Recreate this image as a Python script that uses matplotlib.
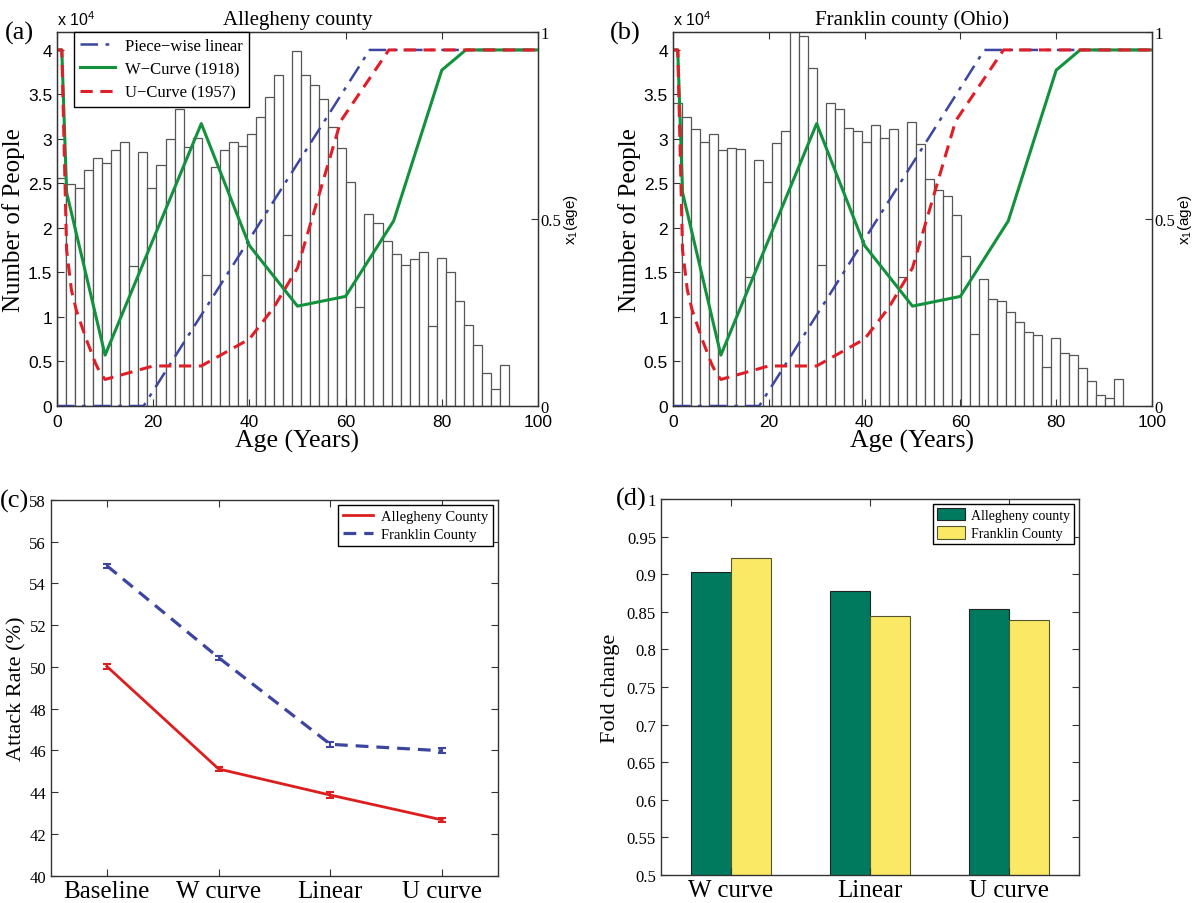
import numpy as np
import matplotlib
matplotlib.use("Agg")
import matplotlib.pyplot as plt
from matplotlib.lines import Line2D

SERIF = "Liberation Serif"
SANS = "Liberation Sans"
plt.rcParams["font.family"] = [SERIF, "DejaVu Serif"]
plt.rcParams["mathtext.fontset"] = "custom"
plt.rcParams["mathtext.rm"] = SANS
plt.rcParams["mathtext.it"] = SANS

# age histograms (counts in units of 1e4), 50 bins over ages 0..94
BIN_W = 1.88
ALLEGHENY_HIST = [2.56, 2.49, 2.45, 2.65, 2.79, 2.73, 2.88, 2.97, 1.57, 2.85,
                  2.45, 2.71, 3.00, 3.33, 2.91, 3.01, 1.47, 2.68, 2.87, 2.97,
                  2.92, 3.06, 3.25, 3.47, 3.72, 1.92, 3.99, 3.72, 3.61, 3.45,
                  3.13, 2.90, 2.52, 1.11, 2.16, 2.06, 1.85, 1.71, 1.58, 1.65,
                  1.73, 0.90, 1.66, 1.50, 1.18, 0.91, 0.68, 0.37, 0.19, 0.46]
FRANKLIN_HIST = [3.40, 3.24, 3.11, 2.97, 3.05, 2.88, 2.90, 2.89, 1.45, 2.76,
                 2.52, 2.95, 3.09, 4.25, 4.15, 3.80, 1.58, 3.40, 3.34, 3.12,
                 3.09, 2.97, 3.16, 3.01, 3.11, 1.45, 3.19, 2.94, 2.55, 2.42,
                 2.36, 2.14, 1.68, 0.81, 1.43, 1.20, 1.18, 1.05, 0.94, 0.83,
                 0.80, 0.44, 0.76, 0.59, 0.57, 0.43, 0.28, 0.12, 0.09, 0.30]
COUNT_TICKS = [0, 0.5, 1, 1.5, 2, 2.5, 3, 3.5, 4]
AGE_TICKS = [0, 20, 40, 60, 80, 100]

# x1(age) curves (right axis)
LIN_AGE = [0, 18, 65, 100]
LIN_VAL = [0, 0, 0.952, 0.952]
W_AGE = [0, 1, 2, 10, 30, 40, 50, 60, 70, 80, 85, 100]
W_VAL = [0.952, 0.952, 0.571, 0.136, 0.755, 0.429, 0.267, 0.293, 0.495, 0.898, 0.952, 0.952]
U_AGE = [0, 1, 2, 3, 4, 5, 6, 7, 8, 9, 10, 20, 30, 40, 45, 50, 59, 69, 100]
U_VAL = [0.952, 0.952, 0.417, 0.310, 0.257, 0.219, 0.181, 0.148, 0.114, 0.088, 0.071,
         0.107, 0.107, 0.179, 0.262, 0.369, 0.762, 0.952, 0.952]

# panel (c)
SCENARIOS = ["Baseline", "W curve", "Linear", "U curve"]
ATTACK_ALLEGHENY = [50.02, 45.11, 43.86, 42.67]
ATTACK_ALLEGHENY_ERR = [0.12, 0.10, 0.13, 0.09]
ATTACK_FRANKLIN = [54.84, 50.44, 46.29, 45.98]
ATTACK_FRANKLIN_ERR = [0.10, 0.10, 0.11, 0.12]
ATTACK_TICKS = [40, 42, 44, 46, 48, 50, 52, 54, 56, 58]

# panel (d)
STRATEGIES = ["W curve", "Linear", "U curve"]
FOLD_ALLEGHENY = [0.9025, 0.8777, 0.8533]
FOLD_FRANKLIN = [0.921, 0.8444, 0.839]
FOLD_TICKS = [0.5, 0.55, 0.6, 0.65, 0.7, 0.75, 0.8, 0.85, 0.9, 0.95, 1]

C_BLUE = "#3C46A0"
C_GREEN = "#12923C"
C_RED = "#E01E28"
C_EDGE = "#333333"


def style_ax(ax):
    for s in ax.spines.values():
        s.set_color(C_EDGE)
        s.set_linewidth(1.0)
    ax.tick_params(direction="in", top=True, right=True, length=5, color=C_EDGE)


def age_panel(ax, hist, title, legend=False):
    left_edges = np.arange(len(hist)) * BIN_W
    ax.bar(left_edges, np.array(hist) * 1e4, width=BIN_W, align="edge",
           color="white", edgecolor="#555555", linewidth=0.9, zorder=1)
    ax.set_xlim(0, 100)
    ax.set_ylim(0, 4.2e4)
    ax.set_yticks([t * 1e4 for t in COUNT_TICKS], labels=[f"{t:g}" for t in COUNT_TICKS],
                  fontfamily=SANS, fontsize=12.5)
    ax.set_xticks(AGE_TICKS, labels=[str(t) for t in AGE_TICKS],
                  fontfamily=SANS, fontsize=12.5)
    style_ax(ax)
    ax.tick_params(axis="x", pad=6)
    ax.set_xlabel("Age (Years)", fontsize=18.5, labelpad=0)
    ax.set_ylabel("Number of People", fontsize=18, labelpad=2)
    ax.set_title(title, fontsize=15, pad=6)
    ax.text(0, 1.012, "x 10$^4$", transform=ax.transAxes, fontfamily=SANS,
            fontsize=11.5, va="bottom", ha="left")

    tw = ax.twinx()
    tw.set_ylim(0, 1)
    tw.set_yticks([0, 0.5, 1], labels=["0", "0.5", "1"], fontsize=12)
    tw.tick_params(direction="in", length=5, color=C_EDGE, pad=2)
    tw.set_ylabel("x$_1$(age)", fontfamily=SANS, fontsize=11, labelpad=0)
    l1, = tw.plot(LIN_AGE, LIN_VAL, color=C_BLUE, lw=1.8, dashes=[7, 3, 1.5, 3],
                  label="Piece\u2212wise linear")
    l2, = tw.plot(W_AGE, W_VAL, color=C_GREEN, lw=2.2, label="W\u2212Curve (1918)")
    l3, = tw.plot(U_AGE, U_VAL, color=C_RED, lw=2.2, dashes=[4, 2.5],
                  label="U\u2212Curve (1957)")
    for s in tw.spines.values():
        s.set_color(C_EDGE)
    if legend:
        leg = tw.legend(handles=[l1, l2, l3], loc="upper left",
                        bbox_to_anchor=(0.036, 1.0), borderaxespad=0,
                        prop={"size": 12}, fancybox=False,
                        framealpha=1, edgecolor="black", handlelength=2.1,
                        borderpad=0.35, labelspacing=0.45, handletextpad=0.6)
        leg.get_frame().set_linewidth(1.0)
    return tw


fig = plt.figure(figsize=(12, 9.04), dpi=100)

ax_a = fig.add_axes([0.0475, 0.5498, 0.4008, 0.4137])
ax_b = fig.add_axes([0.5608, 0.5498, 0.3992, 0.4137])
ax_c = fig.add_axes([0.0425, 0.0302, 0.3725, 0.4159])
ax_d = fig.add_axes([0.5508, 0.0310, 0.3483, 0.4159])

age_panel(ax_a, ALLEGHENY_HIST, "Allegheny county", legend=True)
age_panel(ax_b, FRANKLIN_HIST, "Franklin county (Ohio)")

# (c) attack rate
xc = np.arange(1, len(SCENARIOS) + 1)
ax_c.errorbar(xc, ATTACK_ALLEGHENY, yerr=ATTACK_ALLEGHENY_ERR, color="#DC1E1E",
              lw=2, capsize=3, capthick=1.5, elinewidth=1.5)
ax_c.errorbar(xc, ATTACK_FRANKLIN, yerr=ATTACK_FRANKLIN_ERR, color=C_BLUE,
              lw=2.3, dashes=[4, 2.5], capsize=3, capthick=1.5, elinewidth=1.5)
ax_c.set_xlim(0.5, 4.5)
ax_c.set_ylim(40, 58)
ax_c.set_yticks(ATTACK_TICKS, labels=[str(t) for t in ATTACK_TICKS], fontsize=12)
ax_c.set_xticks(xc, labels=SCENARIOS, fontsize=18)
style_ax(ax_c)
ax_c.tick_params(axis="x", pad=3)
ax_c.set_ylabel("Attack Rate (%)", fontsize=16, labelpad=2)
handles_c = [Line2D([0], [0], color="#DC1E1E", lw=2, label="Allegheny County"),
             Line2D([0], [0], color=C_BLUE, lw=2.3, dashes=[4, 2.5], label="Franklin County")]
leg = ax_c.legend(handles=handles_c, loc="upper right", prop={"size": 10.5},
                  fancybox=False, framealpha=1, edgecolor="black",
                  borderaxespad=0.35, handlelength=2.1, borderpad=0.35,
                  labelspacing=0.3, handletextpad=0.5)
leg.get_frame().set_linewidth(1.0)

# (d) fold change
xd = np.arange(1, len(STRATEGIES) + 1)
bw = 0.287
ax_d.bar(xd - bw / 2, FOLD_ALLEGHENY, width=bw, color="#007A5E", edgecolor="#222222",
         linewidth=0.8, label="Allegheny county")
ax_d.bar(xd + bw / 2, FOLD_FRANKLIN, width=bw, color="#FAE964", edgecolor="#555533",
         linewidth=0.8, label="Franklin County")
ax_d.set_xlim(0.5, 3.5)
ax_d.set_ylim(0.5, 1.0)
ax_d.set_yticks(FOLD_TICKS, labels=[f"{t:g}" for t in FOLD_TICKS], fontsize=12)
ax_d.set_xticks(xd, labels=STRATEGIES, fontsize=18)
style_ax(ax_d)
ax_d.tick_params(axis="x", pad=3)
ax_d.set_ylabel("Fold change", fontsize=16, labelpad=5)
leg = ax_d.legend(loc="upper right", prop={"size": 10},
                  fancybox=False, framealpha=1, edgecolor="black",
                  borderaxespad=0.35, handlelength=2.0, handleheight=1.0,
                  borderpad=0.3, labelspacing=0.3, handletextpad=0.4)
leg.get_frame().set_linewidth(1.0)

# panel letters
for x, y, s in [(0.004, 0.963, "(a)"), (0.508, 0.963, "(b)"),
                (0.0, 0.445, "(c)"), (0.513, 0.447, "(d)")]:
    fig.text(x, y, s, fontsize=19, va="center", ha="left")

fig.savefig("out.png", dpi=100)
